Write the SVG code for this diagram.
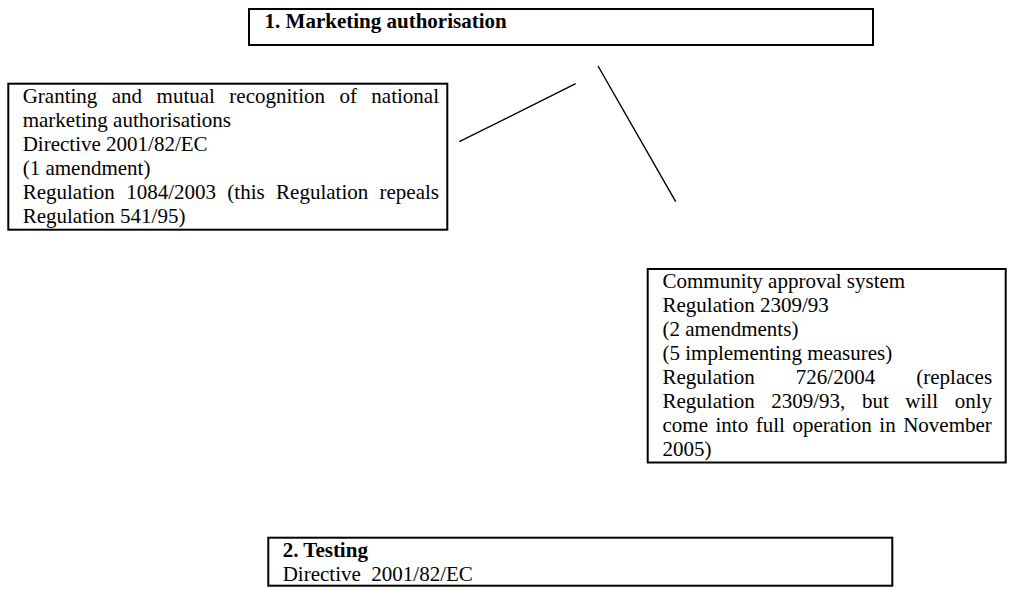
<svg xmlns="http://www.w3.org/2000/svg" width="1009" height="591" viewBox="0 0 1009 591">
<style>
.box{fill:#fff;stroke:#000;stroke-width:2}
.t{font-family:"Liberation Serif","Times New Roman",serif;font-size:21px;fill:#000;white-space:pre}
.b{font-weight:bold}
.c{stroke:#000;stroke-width:1.4;fill:none}
</style>
<rect width="1009" height="591" fill="#fff"/>
<g id="connectors">
<line class="c" x1="459.3" y1="141.7" x2="575.7" y2="83.7"/>
<line class="c" x1="598" y1="66" x2="675.7" y2="201.7"/>
</g>
<g id="marketing">
<rect class="box" x="249" y="9" width="624" height="36"/>
<text class="t b" x="264.6" y="28">1. Marketing authorisation</text>
</g>
<g id="national">
<rect class="box" x="8.3" y="83.7" width="439" height="146"/>
<text class="t" x="22.7" y="102.7" word-spacing="9.2">Granting and mutual recognition of national</text>
<text class="t" x="22.7" y="126.7">marketing authorisations</text>
<text class="t" x="22.7" y="150.7">Directive 2001/82/EC</text>
<text class="t" x="22.7" y="174.7">(1 amendment)</text>
<text class="t" x="22.7" y="198.7" word-spacing="6.1">Regulation 1084/2003 (this Regulation repeals</text>
<text class="t" x="22.7" y="222.7">Regulation 541/95)</text>
</g>
<g id="community">
<rect class="box" x="647.7" y="269" width="358" height="193.5"/>
<text class="t" x="662.5" y="288">Community approval system</text>
<text class="t" x="662.5" y="312">Regulation 2309/93</text>
<text class="t" x="662.5" y="336">(2 amendments)</text>
<text class="t" x="662.5" y="360">(5 implementing measures)</text>
<text class="t" x="662.5" y="384" word-spacing="35.9">Regulation 726/2004 (replaces</text>
<text class="t" x="662.5" y="408" word-spacing="11.35">Regulation 2309/93, but will only</text>
<text class="t" x="662.5" y="432" word-spacing="2.3">come into full operation in November</text>
<text class="t" x="662.5" y="456">2005)</text>
</g>
<g id="testing">
<rect class="box" x="268.3" y="537.7" width="624" height="48"/>
<text class="t b" x="282.7" y="557.3">2. Testing</text>
<text class="t" x="282.7" y="581.3">Directive  2001/82/EC</text>
</g>
</svg>
